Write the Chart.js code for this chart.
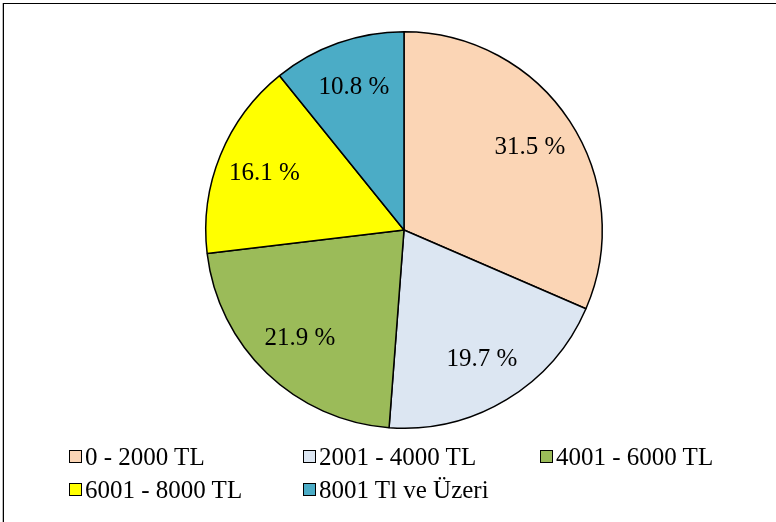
<!DOCTYPE html>
<html>
<head>
<meta charset="utf-8">
<script src="https://cdn.jsdelivr.net/npm/chart.js@4/dist/chart.umd.min.js"></script>
<style>
  html, body { margin: 0; padding: 0; background: #fff; overflow: hidden; }
  #wrap { position: relative; width: 776px; height: 522px; }
  #frame { position: absolute; left: 3px; top: 3px; width: 800px; height: 600px;
           border: 1.5px solid #000; box-shadow: -1px 0 0 #bbb; }
  #myChart { position: absolute; left: 0; top: 0; }
  #legend { position: absolute; left: 69px; top: 440px;
            display: grid; grid-template-columns: 234px 237px auto; grid-auto-rows: 33px;
            font-family: "Liberation Serif", "DejaVu Serif", serif; font-size: 25px; color: #000; }
  .item { display: flex; align-items: center; white-space: nowrap; }
  .box { width: 11px; height: 11px; border: 1px solid #000; margin-right: 3px; }
</style>
</head>
<body>
<div id="wrap">
  <div id="frame"></div>
  <canvas id="myChart" width="776" height="522"></canvas>
  <div id="legend"></div>
</div>
<script>
// income groups and their shares (%)
const labels = ['0 - 2000 TL', '2001 - 4000 TL', '4001 - 6000 TL', '6001 - 8000 TL', '8001 Tl ve Üzeri'];
const shares = [31.5, 19.7, 21.9, 16.1, 10.8];
const colors = ['#FBD5B5', '#DCE6F2', '#9BBB59', '#FFFF00', '#4BACC6'];

const FONT = '"Liberation Serif", "DejaVu Serif", serif';

// draws "xx.x %" inside each slice
const sliceLabels = {
    id: 'sliceLabels',
    afterDatasetsDraw(chart) {
        const ctx = chart.ctx;
        const meta = chart.getDatasetMeta(0);
        ctx.save();
        ctx.font = '25px ' + FONT;
        ctx.fillStyle = '#000';
        ctx.textAlign = 'center';
        ctx.textBaseline = 'middle';
        meta.data.forEach((arc, i) => {
            const p = arc.getProps(['x', 'y', 'startAngle', 'endAngle', 'outerRadius'], true);
            const mid = (p.startAngle + p.endAngle) / 2;
            const r = p.outerRadius * 0.76;
            ctx.fillText(shares[i].toFixed(1) + ' %', p.x + Math.cos(mid) * r, p.y + Math.sin(mid) * r);
        });
        ctx.restore();
    }
};

const ctx = document.getElementById('myChart');
const chart = new Chart(ctx, {
    type: 'pie',
    data: {
        labels: labels,
        datasets: [{
            data: shares,
            backgroundColor: colors,
            borderColor: '#000',
            borderWidth: 1.5,
            hoverOffset: 0
        }]
    },
    options: {
        responsive: false,
        animation: false,
        events: [],
        layout: { padding: { top: 31, bottom: 93, left: 205, right: 173 } },
        plugins: {
            legend: { display: false },
            tooltip: { enabled: false }
        }
    },
    plugins: [sliceLabels]
});

// html legend built from the chart data
const legendEl = document.getElementById('legend');
chart.data.labels.forEach((lab, i) => {
    const item = document.createElement('div');
    item.className = 'item';
    const box = document.createElement('span');
    box.className = 'box';
    box.style.background = chart.data.datasets[0].backgroundColor[i];
    const txt = document.createElement('span');
    txt.textContent = lab;
    item.appendChild(box);
    item.appendChild(txt);
    legendEl.appendChild(item);
});
</script>
</body>
</html>
